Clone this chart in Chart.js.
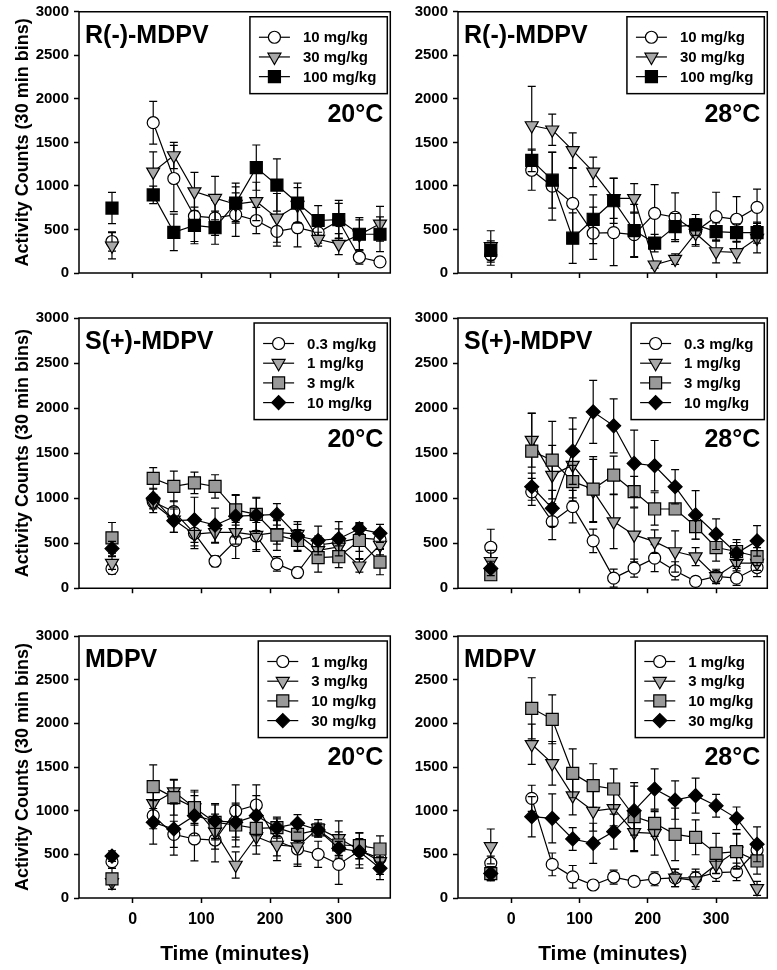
<!DOCTYPE html>
<html lang="en">
<head>
<meta charset="UTF-8">
<title>MDPV enantiomers - locomotor activity</title>
<script src="https://cdn.jsdelivr.net/npm/chart.js"></script>
<style>
  html, body { margin: 0; padding: 0; background: #fff; }
  #page { position: relative; width: 777px; height: 970px; overflow: hidden; }
  #page canvas { position: absolute; }
</style>
</head>
<body>
<div id="page"></div>
<script>
// time bins (minutes), -30 = pre-injection baseline
const timesMin = [-30, 30, 60, 90, 120, 150, 180, 210, 240, 270, 300, 330, 360];
const xTicks = [0, 100, 200, 300];
const yTicks = [0, 500, 1000, 1500, 2000, 2500, 3000];

// R(-)-MDPV
const rDoses = ['10 mg/kg', '30 mg/kg', '100 mg/kg'];
const r20Mean = [
  [362, 1726, 1085, 652, 633, 671, 603, 478, 520, 464, 600, 181, 128],
  [313, 1161, 1349, 935, 859, 790, 822, 633, 780, 388, 332, 440, 565],
  [746, 897, 467, 546, 520, 803, 1210, 1010, 803, 603, 614, 445, 445]
];
const r20Sem = [
  [110, 245, 380, 290, 200, 250, 150, 170, 220, 120, 200, 80, 40],
  [150, 230, 150, 220, 250, 200, 220, 280, 200, 80, 120, 170, 200],
  [180, 100, 210, 210, 190, 230, 260, 300, 230, 170, 220, 190, 200]
];
const r28Mean = [
  [209, 1180, 997, 800, 457, 464, 440, 685, 640, 476, 647, 617, 754],
  [305, 1694, 1645, 1409, 1161, 857, 857, 95, 160, 457, 247, 236, 400],
  [259, 1294, 1066, 400, 617, 830, 487, 343, 533, 552, 476, 464, 464]
];
const r28Sem = [
  [120, 230, 390, 400, 300, 380, 260, 330, 280, 150, 280, 260, 210],
  [180, 450, 180, 200, 170, 230, 170, 40, 60, 150, 130, 120, 170],
  [110, 130, 320, 290, 280, 260, 300, 100, 150, 120, 100, 100, 120]
];

// S(+)-MDPV
const s20Doses = ['0.3 mg/kg', '1 mg/kg', '3 mg/k', '10 mg/kg'];
const s28Doses = ['0.3 mg/kg', '1 mg/kg', '3 mg/kg', '10 mg/kg'];
const s20Mean = [
  [217, 960, 850, 610, 300, 530, 580, 270, 175, 480, 510, 560, 540],
  [280, 940, 760, 600, 620, 620, 590, 620, 600, 420, 460, 250, 480],
  [560, 1220, 1130, 1170, 1130, 870, 820, 590, 530, 340, 350, 530, 290],
  [440, 1000, 750, 760, 700, 800, 810, 820, 580, 530, 550, 660, 610]
];
const s20Sem = [
  [60, 80, 120, 140, 60, 200, 150, 80, 60, 100, 150, 150, 100],
  [70, 100, 140, 160, 120, 130, 180, 130, 110, 140, 130, 70, 110],
  [170, 120, 170, 120, 130, 170, 180, 170, 120, 160, 120, 200, 140],
  [80, 110, 130, 250, 190, 230, 200, 120, 160, 160, 190, 60, 100]
];
const s28Mean = [
  [455, 1070, 740, 906, 526, 112, 223, 334, 194, 76, 131, 112, 230],
  [300, 1644, 1256, 1367, 1080, 740, 592, 518, 408, 352, 131, 279, 279],
  [150, 1522, 1422, 1183, 1101, 1256, 1072, 880, 880, 685, 452, 408, 352],
  [220, 1127, 887, 1522, 1958, 1803, 1386, 1360, 1127, 814, 600, 389, 526]
];
const s28Sem = [
  [200, 150, 200, 180, 130, 100, 100, 150, 100, 50, 80, 80, 100],
  [120, 300, 330, 400, 350, 300, 300, 130, 230, 100, 60, 60, 80],
  [60, 420, 430, 180, 360, 210, 170, 180, 60, 140, 150, 100, 100],
  [80, 150, 200, 370, 350, 300, 370, 280, 190, 270, 170, 150, 170]
];

// racemic MDPV
const mDoses = ['1 mg/kg', '3 mg/kg', '10 mg/kg', '30 mg/kg'];
const m20Mean = [
  [416, 943, 729, 676, 664, 996, 1065, 653, 561, 500, 385, 542, 454],
  [180, 1084, 1218, 1034, 760, 378, 702, 607, 588, 798, 683, 550, 420],
  [220, 1275, 1149, 1034, 866, 836, 798, 805, 729, 779, 607, 599, 561],
  [480, 866, 790, 943, 882, 866, 943, 805, 855, 779, 569, 531, 340]
];
const m20Sem = [
  [60, 150, 150, 250, 250, 300, 230, 170, 200, 150, 230, 200, 150],
  [80, 200, 140, 180, 200, 150, 200, 180, 200, 100, 200, 100, 150],
  [120, 250, 200, 200, 200, 250, 200, 120, 80, 80, 150, 150, 150],
  [60, 250, 300, 230, 200, 200, 230, 100, 100, 60, 80, 150, 130]
];
const m28Mean = [
  [400, 1141, 385, 242, 149, 240, 190, 220, 230, 230, 290, 300, 550],
  [590, 1760, 1542, 1172, 996, 1027, 752, 740, 230, 200, 380, 540, 110],
  [280, 2172, 2046, 1428, 1287, 1248, 932, 855, 729, 695, 511, 531, 424],
  [280, 931, 912, 676, 626, 760, 1000, 1248, 1122, 1172, 1057, 912, 615]
];
const m28Sem = [
  [80, 150, 130, 130, 50, 80, 50, 80, 100, 100, 100, 100, 100],
  [200, 230, 250, 220, 230, 200, 220, 250, 100, 100, 100, 200, 80],
  [80, 350, 280, 280, 250, 230, 390, 150, 300, 200, 230, 200, 150],
  [80, 230, 280, 130, 230, 200, 280, 230, 220, 200, 130, 130, 200]
];

// marker looks
const MARK = {
  circle:   { pointStyle: 'circle',  radius: 6,   rotation: 0,   fill: '#ffffff' },
  triangle: { pointStyle: 'triangle', radius: 7.5, rotation: 180, fill: '#a8a8a8' },
  squareK:  { pointStyle: 'rect',    radius: 8.5, rotation: 0,   fill: '#000000' },
  squareG:  { pointStyle: 'rect',    radius: 8.5, rotation: 0,   fill: '#999999' },
  diamond:  { pointStyle: 'rectRot', radius: 7,   rotation: 0,   fill: '#000000' }
};

const FONT = '"Liberation Sans", Arial, Helvetica, sans-serif';
Chart.defaults.font.family = FONT;
Chart.defaults.font.weight = 'bold';
Chart.defaults.color = '#000';

// canvas placement for the 2x3 grid
const COLS = [
  { left: 0, width: 400, axisW: 79, padR: 6 },
  { left: 400, width: 377, axisW: 58, padR: 5 }
];
const ROWS = [
  { top: 0, height: 290, padT: 7, axisH: 17, tempY: 110 },
  { top: 300, height: 300, padT: 18, axisH: 11, tempY: 129 },
  { top: 620, height: 350, padT: 16, axisH: 72, tempY: 129 }
];

const panels = [
  { row: 0, col: 0, name: 'R(-)-MDPV', temp: '20°C', doses: rDoses, mean: r20Mean, sem: r20Sem, marks: ['circle', 'triangle', 'squareK'] },
  { row: 0, col: 1, name: 'R(-)-MDPV', temp: '28°C', doses: rDoses, mean: r28Mean, sem: r28Sem, marks: ['circle', 'triangle', 'squareK'] },
  { row: 1, col: 0, name: 'S(+)-MDPV', temp: '20°C', doses: s20Doses, mean: s20Mean, sem: s20Sem, marks: ['circle', 'triangle', 'squareG', 'diamond'] },
  { row: 1, col: 1, name: 'S(+)-MDPV', temp: '28°C', doses: s28Doses, mean: s28Mean, sem: s28Sem, marks: ['circle', 'triangle', 'squareG', 'diamond'] },
  { row: 2, col: 0, name: 'MDPV', temp: '20°C', doses: mDoses, mean: m20Mean, sem: m20Sem, marks: ['circle', 'triangle', 'squareG', 'diamond'] },
  { row: 2, col: 1, name: 'MDPV', temp: '28°C', doses: mDoses, mean: m28Mean, sem: m28Sem, marks: ['circle', 'triangle', 'squareG', 'diamond'] }
];

// SEM bars, drawn just before each series so later series sit on top
const errorBars = {
  id: 'errorBars',
  beforeDatasetDraw(chart, args) {
    const ds = chart.data.datasets[args.index];
    const y = chart.scales.y;
    const a = chart.chartArea;
    const ctx = chart.ctx;
    ctx.save();
    ctx.beginPath();
    ctx.rect(a.left, a.top, a.right - a.left, a.bottom - a.top);
    ctx.clip();
    ctx.strokeStyle = '#000';
    ctx.lineWidth = 1.2;
    args.meta.data.forEach((pt, i) => {
      const v = ds.data[i].y;
      const e = ds.sem[i];
      if (v == null || !e) return;
      const top = y.getPixelForValue(v + e);
      const bot = y.getPixelForValue(v - e);
      ctx.beginPath();
      ctx.moveTo(pt.x, top); ctx.lineTo(pt.x, bot);
      ctx.moveTo(pt.x - 4, top); ctx.lineTo(pt.x + 4, top);
      ctx.moveTo(pt.x - 4, bot); ctx.lineTo(pt.x + 4, bot);
      ctx.stroke();
    });
    ctx.restore();
  }
};

// frame, panel title, temperature and boxed legend
const panelDecor = {
  id: 'panelDecor',
  afterDraw(chart, args, opts) {
    const ctx = chart.ctx;
    const a = chart.chartArea;
    ctx.save();
    ctx.strokeStyle = '#000';
    ctx.lineWidth = 1.5;
    ctx.strokeRect(a.left, a.top, a.right - a.left, a.bottom - a.top);

    ctx.fillStyle = '#000';
    ctx.font = 'bold 25px ' + FONT;
    ctx.textBaseline = 'alphabetic';
    ctx.textAlign = 'left';
    ctx.fillText(opts.name, a.left + 6, a.top + 31);
    ctx.textAlign = 'right';
    ctx.fillText(opts.temp, a.right - 7, a.top + opts.tempY);

    // legend box
    const dsets = chart.data.datasets;
    ctx.font = 'bold 15px ' + FONT;
    let tw = 0;
    dsets.forEach(d => { tw = Math.max(tw, ctx.measureText(d.label).width); });
    const first = 20.5, step = 19.7;
    const boxW = 54 + tw + 10;
    const boxH = first + step * (dsets.length - 1) + 17;
    const bx = a.right - 3 - boxW;
    const by = a.top + 5;
    ctx.fillStyle = '#fff';
    ctx.fillRect(bx, by, boxW, boxH);
    ctx.lineWidth = 1.5;
    ctx.strokeRect(bx, by, boxW, boxH);
    dsets.forEach((d, i) => {
      const yy = by + first + i * step;
      ctx.strokeStyle = '#000';
      ctx.lineWidth = 1.2;
      ctx.beginPath();
      ctx.moveTo(bx + 9, yy); ctx.lineTo(bx + 40, yy);
      ctx.stroke();
      ctx.fillStyle = d.pointBackgroundColor;
      Chart.helpers.drawPoint(ctx, {
        pointStyle: d.pointStyle, radius: d.pointRadius,
        rotation: d.pointRotation, borderWidth: 1.2
      }, bx + 24.5, yy);
      ctx.fillStyle = '#000';
      ctx.textAlign = 'left';
      ctx.textBaseline = 'middle';
      ctx.fillText(d.label, bx + 53, yy + 1);
    });
    ctx.restore();
  }
};

const page = document.getElementById('page');

panels.forEach(p => {
  const c = COLS[p.col], r = ROWS[p.row];
  const canvas = document.createElement('canvas');
  canvas.width = c.width;
  canvas.height = r.height;
  canvas.style.left = c.left + 'px';
  canvas.style.top = r.top + 'px';
  canvas.style.width = c.width + 'px';
  canvas.style.height = r.height + 'px';
  page.appendChild(canvas);

  const isBottom = p.row === 2;
  const isLeft = p.col === 0;

  const datasets = p.doses.map((dose, k) => {
    const m = MARK[p.marks[k]];
    return {
      label: dose,
      data: timesMin.map((t, i) => ({ x: t, y: p.mean[k][i] })),
      sem: p.sem[k],
      order: -k,
      borderColor: '#000',
      borderWidth: 1.2,
      tension: 0,
      pointStyle: m.pointStyle,
      pointRadius: m.radius,
      pointRotation: m.rotation,
      pointBackgroundColor: m.fill,
      pointBorderColor: '#000',
      pointBorderWidth: 1.2,
      // baseline point is not joined to the post-injection curve
      segment: { borderColor: s => s.p0DataIndex === 0 ? 'rgba(0,0,0,0)' : '#000' }
    };
  });

  new Chart(canvas, {
    type: 'line',
    data: { datasets },
    options: {
      responsive: false,
      animation: false,
      events: [],
      layout: { padding: { top: r.padT, right: c.padR, left: 0, bottom: 0 } },
      plugins: {
        legend: { display: false },
        tooltip: { enabled: false },
        panelDecor: { name: p.name, temp: p.temp, tempY: r.tempY }
      },
      scales: {
        x: {
          type: 'linear',
          min: -78,
          max: 375,
          afterBuildTicks: s => { s.ticks = xTicks.map(v => ({ value: v })); },
          afterFit: s => { s.height = r.axisH; },
          border: { display: false },
          grid: { drawOnChartArea: false, drawTicks: true, tickLength: 5, tickWidth: 1.5, tickColor: '#000' },
          ticks: {
            display: isBottom,
            font: { size: 16, weight: 'bold' },
            padding: 7,
            maxRotation: 0,
            callback: v => String(v)
          },
          title: {
            display: isBottom,
            text: 'Time (minutes)',
            font: { size: 21, weight: 'bold' },
            padding: { top: 0, bottom: 3 }
          }
        },
        y: {
          min: 0,
          max: 3000,
          afterBuildTicks: s => { s.ticks = yTicks.map(v => ({ value: v })); },
          afterFit: s => { s.width = c.axisW; },
          border: { display: false },
          grid: { drawOnChartArea: false, drawTicks: true, tickLength: 5, tickWidth: 1.5, tickColor: '#000' },
          ticks: {
            font: { size: 15, weight: 'bold', lineHeight: 0.9 },
            padding: 5,
            callback: v => String(v)
          },
          title: {
            display: isLeft,
            text: 'Activity Counts (30 min bins)',
            font: { size: 18, weight: 'bold' },
            padding: { top: 12, bottom: 0 }
          }
        }
      }
    },
    plugins: [errorBars, panelDecor]
  });
});
</script>
</body>
</html>
